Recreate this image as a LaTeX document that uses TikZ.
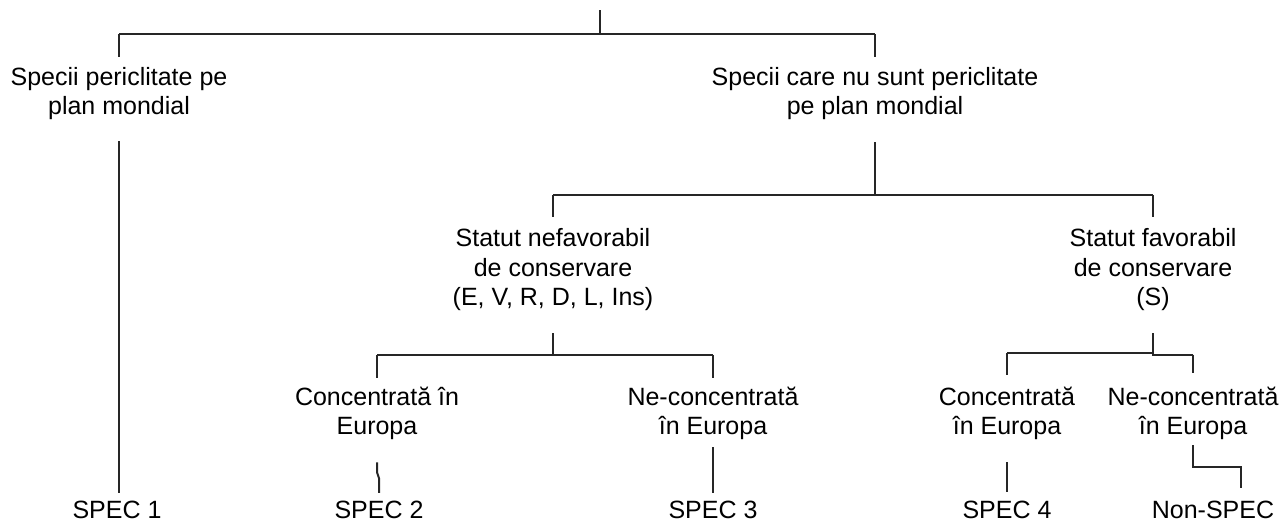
\documentclass[tikz,border=0pt]{standalone}
\usepackage{fontspec}
\setmainfont{Liberation Sans}
\begin{document}
\begin{tikzpicture}[x=1pt,y=-1pt,
  lbl/.style={align=center, inner sep=0pt, font=\fontsize{25}{29.5}\selectfont, text=black},
  ln/.style={line width=2pt, draw=black!85}]
\useasboundingbox (0,0) rectangle (1285,520);
% labels
\node[lbl] (sp)    at (119,93.5)  {Specii periclitate pe\\plan mondial};
\node[lbl] (snp)   at (875,93.5)  {Specii care nu sunt periclitate\\pe plan mondial};
\node[lbl] (nefav) at (553,270)   {Statut nefavorabil\\de conservare\\(E, V, R, D, L, Ins)};
\node[lbl] (fav)   at (1153,270)  {Statut favorabil\\de conservare\\(S)};
\node[lbl] (c1)    at (377,413.5) {Concentrată în\\Europa};
\node[lbl] (nc1)   at (713,413.5) {Ne-concentrată\\în Europa};
\node[lbl] (c2)    at (1007,413.5){Concentrată\\în Europa};
\node[lbl] (nc2)   at (1193,413.5){Ne-concentrată\\în Europa};
\node[lbl] (spec1) at (117,509.5) {SPEC 1};
\node[lbl] (spec2) at (379,509.5) {SPEC 2};
\node[lbl] (spec3) at (713,509.5) {SPEC 3};
\node[lbl] (spec4) at (1007,509.5){SPEC 4};
\node[lbl] (nspec) at (1213,509.5){Non-SPEC};
% junctions
\coordinate (root) at (600,10);
\coordinate (j1) at (600,34);
\coordinate (j2) at (875,195);
\coordinate (j3) at (553,355);
\coordinate (j4) at (1153,353);
% level 1
\draw[ln] (root) -- (j1);
\draw[ln] (sp.north |- j1) -- (snp.north |- j1);
\draw[ln, shorten >=10pt] (sp.north |- j1) -- (sp.north);
\draw[ln, shorten >=10pt] (snp.north |- j1) -- (snp.north);
% SPEC 1
\draw[ln, shorten <=21pt, shorten >=7.5pt] (sp.south) -- (sp.south |- spec1.north);
% level 2
\draw[ln, shorten <=22pt] (snp.south) -- (j2);
\draw[ln] (nefav.north |- j2) -- (fav.north |- j2);
\draw[ln, shorten >=11.5pt] (nefav.north |- j2) -- (nefav.north);
\draw[ln, shorten >=11.5pt] (fav.north |- j2) -- (fav.north);
% level 3 left
\draw[ln, shorten <=22pt] (nefav.south) -- (j3);
\draw[ln] (c1.north |- j3) -- (nc1.north |- j3);
\draw[ln, shorten >=9pt] (c1.north |- j3) -- (c1.north);
\draw[ln, shorten >=9pt] (nc1.north |- j3) -- (nc1.north);
% level 3 right
\draw[ln, shorten <=22pt] (fav.south) -- (j4);
\draw[ln] (c2.north |- j4) -- (j4) -- ++(0,1.5) -- ([yshift=-1.5pt]nc2.north |- j4);
\draw[ln, shorten >=12pt] (c2.north |- j4) -- (c2.north);
\draw[ln, shorten >=14pt] ([yshift=-1.5pt]nc2.north |- j4) -- (nc2.north);
% leaves
\draw[ln] ([yshift=-22pt]c1.south) -- ++(0,10) -- ++(2,6) -- ([yshift=7.5pt]spec2.north);
\draw[ln, shorten <=7pt, shorten >=7.5pt] (nc1.south) -- (spec3.north);
\draw[ln, shorten <=22pt, shorten >=8.5pt] (c2.south) -- (spec4.north);
\draw[ln] ([yshift=-5pt]nc2.south) -- ++(0,22) -| ([xshift=28pt,yshift=12.5pt]nspec.north);
\end{tikzpicture}
\end{document}
